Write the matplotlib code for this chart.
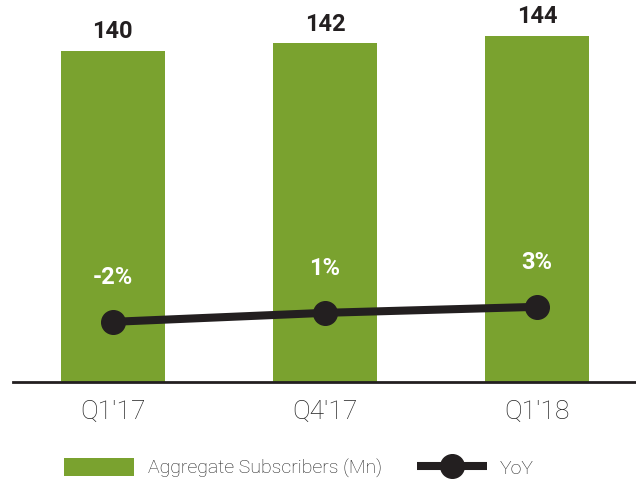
import matplotlib as mpl
mpl.use('Agg')
import matplotlib.pyplot as plt
from matplotlib.patches import Patch
from matplotlib.lines import Line2D
import numpy as np

quarters = ["Q1'17", "Q4'17", "Q1'18"]
subscribers = [140, 142, 144]
yoy = [-2, 1, 3]
yoy_labels = ["-2%", "1%", "3%"]

green = '#7aa22f'
black = '#231f20'
bold_font = ['Roboto', 'DejaVu Sans']
thin_font = ['Roboto', 'DejaVu Sans']

fig = plt.figure(figsize=(6.36, 4.84), dpi=100)
ax = fig.add_axes([0.02, 0.211, 0.98, 0.769])

x = np.arange(len(quarters))
ax.bar(x, subscribers, width=0.49, color=green, zorder=2)
for xi, v in zip(x, subscribers):
    ax.text(xi, v + 2.0, str(v), ha='center', va='bottom', fontsize=17,
            fontweight='bold', color=black, family=bold_font)

ax.set_xlim(-0.472, 2.467)
ax.set_ylim(51.7, 150.9)
ax.set_yticks([])
for s in ['top', 'right', 'left']:
    ax.spines[s].set_visible(False)
ax.spines['bottom'].set_color(black)
ax.spines['bottom'].set_linewidth(2)
ax.set_xticks(x)
ax.set_xticklabels(quarters, fontsize=19, color='#222222', family=thin_font,
                   fontweight='light')
ax.tick_params(axis='x', length=0, pad=13)

ax2 = ax.twinx()
ax2.set_ylim(-22, 102)
ax2.plot(x, yoy, color=black, lw=5.8, marker='o', markersize=17, zorder=3)
for xi, v, lab in zip(x, yoy, yoy_labels):
    ax2.text(xi, v + 11, lab, ha='center', va='bottom', fontsize=17,
             fontweight='bold', color='white', family=bold_font)
ax2.set_yticks([])
for s in ['top', 'right', 'left', 'bottom']:
    ax2.spines[s].set_visible(False)

handles = [Patch(facecolor=green, label='Aggregate Subscribers (Mn)'),
           Line2D([0], [0], color=black, lw=5.8, marker='o', markersize=17,
                  solid_capstyle='butt', label='YoY')]
leg = fig.legend(handles=handles, loc='center left', bbox_to_anchor=(0.073, 0.033),
                 ncol=2, frameon=False, handlelength=3.6, handleheight=1.0,
                 columnspacing=1.8, handletextpad=0.7,
                 prop={'family': thin_font, 'size': 14, 'weight': 'light'})
for t in leg.get_texts():
    t.set_color('#222222')

fig.savefig('out.png', dpi=100)
